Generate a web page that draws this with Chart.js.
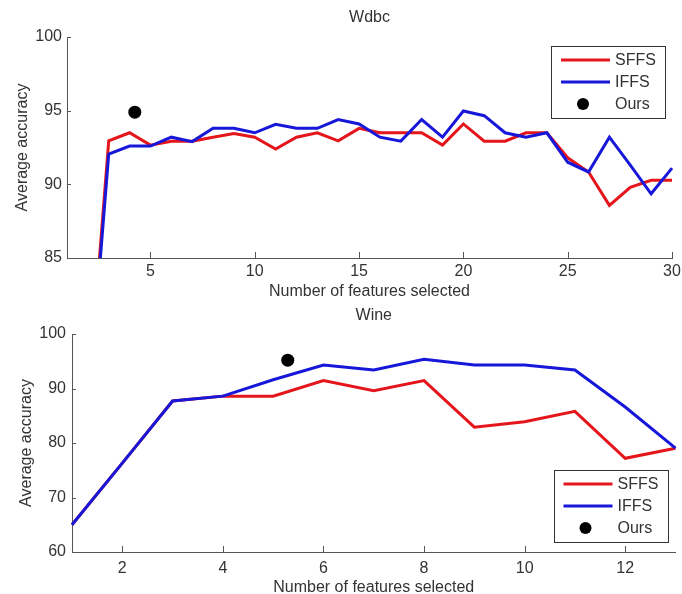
<!DOCTYPE html>
<html>
<head>
<meta charset="utf-8">
<script src="https://cdn.jsdelivr.net/npm/chart.js@4.4.0/dist/chart.umd.min.js"></script>
<style>
  html, body { margin: 0; padding: 0; background: #fff; overflow: hidden; }
  #wrap { position: relative; width: 682px; height: 594px; }
  canvas { position: absolute; left: 0; }
</style>
</head>
<body>
<div id="wrap">
  <canvas id="wdbcChart" width="682" height="300" style="top:0"></canvas>
  <canvas id="wineChart" width="682" height="297" style="top:300px"></canvas>
</div>
<script>
// Wdbc panel
var wdbcFeatures = [2, 3, 4, 5, 6, 7, 8, 9, 10, 11, 12, 13, 14, 15, 16, 17, 18, 19, 20, 21, 22, 23, 24, 25, 26, 27, 28, 29, 30];
var wdbcSffs = [75, 92.95, 93.5, 92.66, 92.93, 92.93, 93.2, 93.45, 93.2, 92.4, 93.2, 93.5, 92.95, 93.8, 93.5, 93.5, 93.5, 92.66, 94.1, 92.93, 92.93, 93.5, 93.5, 91.8, 90.84, 88.57, 89.8, 90.27, 90.27];
var wdbcIffs = [74.5, 92.05, 92.6, 92.6, 93.2, 92.9, 93.8, 93.8, 93.5, 94.07, 93.8, 93.8, 94.4, 94.1, 93.2, 92.93, 94.4, 93.2, 94.98, 94.66, 93.5, 93.2, 93.5, 91.5, 90.84, 93.2, 91.3, 89.36, 91.1];
var wdbcOurs = [4.25, 94.9];
var wdbcXTicks = [5, 10, 15, 20, 25, 30];
var wdbcYTicks = [85, 90, 95, 100];

// Wine panel
var wineFeatures = [1, 2, 3, 4, 5, 6, 7, 8, 9, 10, 11, 12, 13];
var wineSffs = [65.0, 76.3, 87.7, 88.6, 88.6, 91.45, 89.6, 91.45, 82.9, 83.9, 85.8, 77.2, 79.05];
var wineIffs = [65.0, 76.3, 87.7, 88.6, 91.6, 94.3, 93.4, 95.35, 94.3, 94.3, 93.4, 86.6, 79.05];
var wineOurs = [5.29, 95.2];
var wineXTicks = [2, 4, 6, 8, 10, 12];
var wineYTicks = [60, 70, 80, 90, 100];

var seriesLabels = ['SFFS', 'IFFS', 'Ours'];
var redColor = '#e4161c';
var blueColor = '#1717d9';
var axisColor = '#555';
var textColor = '#333';

Chart.defaults.font.family = '"Liberation Sans", Arial, Helvetica, sans-serif';
Chart.defaults.font.size = 16;
Chart.defaults.color = textColor;

// MATLAB style ticks pointing into the plot
var innerTicks = {
    id: 'innerTicks',
    afterDraw: function (chart) {
        var ctx = chart.ctx, a = chart.chartArea;
        var sx = chart.scales.x, sy = chart.scales.y;
        ctx.save();
        ctx.strokeStyle = axisColor;
        ctx.lineWidth = 1;
        ctx.beginPath();
        sx.ticks.forEach(function (t) {
            var px = Math.round(sx.getPixelForValue(t.value)) + 0.5;
            ctx.moveTo(px, a.bottom);
            ctx.lineTo(px, a.bottom - 6);
        });
        sy.ticks.forEach(function (t) {
            var py = Math.round(sy.getPixelForValue(t.value)) + 0.5;
            ctx.moveTo(a.left, py);
            ctx.lineTo(a.left + 4, py);
        });
        ctx.stroke();
        ctx.restore();
    }
};

// boxed legend inside the plot area
var boxLegend = {
    id: 'boxLegend',
    afterDraw: function (chart, args, opts) {
        var ctx = chart.ctx, a = chart.chartArea;
        var w = 114, h = 72;
        var x = a.right - opts.right - w;
        var y = opts.top != null ? a.top + opts.top : a.bottom - opts.bottom - h;
        ctx.save();
        ctx.fillStyle = '#fff';
        ctx.fillRect(x, y, w, h);
        ctx.strokeStyle = '#333';
        ctx.lineWidth = 1;
        ctx.strokeRect(Math.round(x) + 0.5, Math.round(y) + 0.5, w, h);
        ctx.font = '16px "Liberation Sans", Arial, sans-serif';
        ctx.textBaseline = 'middle';
        chart.data.datasets.forEach(function (ds, i) {
            var cy = y + 14 + i * 22;
            if (ds.showLine === false) {
                ctx.fillStyle = ds.backgroundColor;
                ctx.beginPath();
                ctx.arc(x + 32, cy, 6, 0, Math.PI * 2);
                ctx.fill();
            } else {
                ctx.strokeStyle = ds.borderColor;
                ctx.lineWidth = 3;
                ctx.beginPath();
                ctx.moveTo(x + 10, cy);
                ctx.lineTo(x + 59, cy);
                ctx.stroke();
            }
            ctx.fillStyle = textColor;
            ctx.fillText(ds.label, x + 64, cy + 1);
        });
        ctx.restore();
    }
};

function toPoints(xs, ys) {
    return xs.map(function (v, i) { return { x: v, y: ys[i] }; });
}

function makeChart(id, cfg) {
    var lineDs = function (label, color, data, order) {
        return {
            label: label, data: data, borderColor: color, backgroundColor: color,
            borderWidth: 3, pointRadius: 0, tension: 0, order: order,
            clip: { left: 2, right: 3, top: 3, bottom: 0 }
        };
    };
    return new Chart(document.getElementById(id).getContext('2d'), {
        type: 'line',
        data: {
            datasets: [
                lineDs(seriesLabels[0], redColor, toPoints(cfg.features, cfg.sffs), 2),
                lineDs(seriesLabels[1], blueColor, toPoints(cfg.features, cfg.iffs), 1),
                {
                    label: seriesLabels[2], data: [{ x: cfg.ours[0], y: cfg.ours[1] }],
                    showLine: false, pointRadius: 6.5, pointStyle: 'circle',
                    backgroundColor: '#000', borderColor: '#000', borderWidth: 0, order: 0
                }
            ]
        },
        options: {
            responsive: false,
            animation: false,
            layout: { padding: { left: 0, right: cfg.padRight, top: 0, bottom: 0 } },
            plugins: {
                legend: { display: false },
                tooltip: { enabled: false },
                boxLegend: cfg.legend
            },
            scales: {
                x: {
                    type: 'linear', position: 'bottom',
                    min: 1, max: cfg.xMax,
                    grid: { display: false, drawTicks: false },
                    border: { display: true, color: axisColor, width: 1 },
                    ticks: { padding: cfg.xTickPad, maxRotation: 0 },
                    afterBuildTicks: function (s) { s.ticks = cfg.xTicks.map(function (v) { return { value: v }; }); },
                    title: { display: true, text: 'Number of features selected', padding: { top: 0, bottom: cfg.xTitlePad } },
                    afterFit: function (s) { s.height = cfg.xAxisH; s.paddingLeft = 0; s.paddingRight = 0; }
                },
                xTitle: {
                    type: 'linear', position: 'top',
                    grid: { display: false, drawTicks: false },
                    border: { display: false },
                    ticks: { display: false },
                    title: { display: true, text: cfg.title, padding: { top: cfg.titlePad, bottom: 0 } },
                    afterFit: function (s) { s.height = cfg.topH; s.paddingLeft = 0; s.paddingRight = 0; }
                },
                y: {
                    min: cfg.yTicks[0], max: cfg.yTicks[cfg.yTicks.length - 1],
                    grid: { display: false, drawTicks: false },
                    border: { display: true, color: axisColor, width: 1 },
                    ticks: { padding: cfg.yTickPad },
                    afterBuildTicks: function (s) { s.ticks = cfg.yTicks.map(function (v) { return { value: v }; }); },
                    title: { display: true, text: 'Average accuracy', padding: { top: cfg.yTitlePad, bottom: 0 } },
                    afterFit: function (s) { s.width = cfg.yAxisW; s.paddingTop = 0; s.paddingBottom = 0; }
                }
            }
        },
        plugins: [innerTicks, boxLegend]
    });
}

makeChart('wdbcChart', {
    title: 'Wdbc', features: wdbcFeatures, sffs: wdbcSffs, iffs: wdbcIffs, ours: wdbcOurs,
    xTicks: wdbcXTicks, yTicks: wdbcYTicks, xMax: 30,
    padRight: 10, topH: 37, xAxisH: 42, yAxisW: 67,
    titlePad: 8, xTickPad: 4, xTitlePad: -1, yTickPad: 5, yTitlePad: 12.5,
    legend: { right: 7, top: 9 }
});

makeChart('wineChart', {
    title: 'Wine', features: wineFeatures, sffs: wineSffs, iffs: wineIffs, ours: wineOurs,
    xTicks: wineXTicks, yTicks: wineYTicks, xMax: 13,
    padRight: 6, topH: 34, xAxisH: 45, yAxisW: 72,
    titlePad: 5.5, xTickPad: 6.5, xTitlePad: 0, yTickPad: 6, yTitlePad: 17,
    legend: { right: 8, bottom: 10 }
});
</script>
</body>
</html>
